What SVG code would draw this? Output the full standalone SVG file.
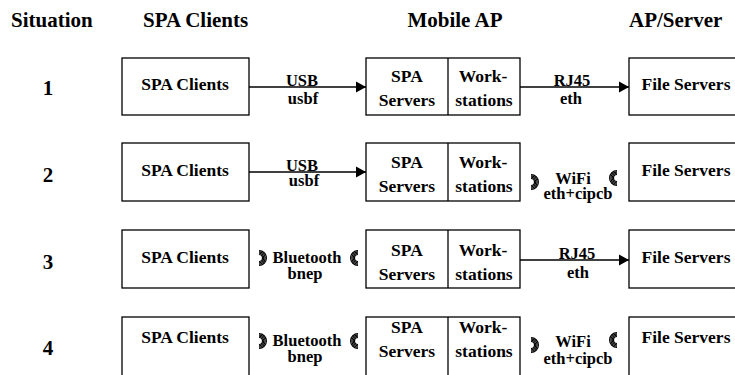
<svg xmlns="http://www.w3.org/2000/svg" width="735" height="375" viewBox="0 0 735 375" font-family="'Liberation Serif', 'DejaVu Serif', serif" font-weight="bold">
<style>
text{font-family:'Liberation Serif','DejaVu Serif',serif;font-weight:700;fill:#000}
.h{font-size:21px}
.n{font-size:21px;text-anchor:middle}
.b{font-size:17.5px;text-anchor:middle}
.l{font-size:16.5px;text-anchor:middle}
.box{fill:#fff;stroke:#000;stroke-width:1.3}
.ln{stroke:#000;stroke-width:1.3;fill:none}
.wl{stroke:#000;stroke-width:1.2;fill:none}
</style>
<defs>
<marker id="ah" markerWidth="10" markerHeight="12" refX="10" refY="6" orient="auto" markerUnits="userSpaceOnUse">
<path d="M0,0.5 L10,6 L0,11.5 Z" fill="#000"/>
</marker>
<g id="wave">
<path class="wl" d="M0,-3.5 A3.5,3.5 0 0 1 0,3.5"/>
<path class="wl" d="M0,-4.8 A4.8,4.8 0 0 1 0,4.8"/>
<path class="wl" d="M0,-6.1 A6.1,6.1 0 0 1 0,6.1"/>
<path class="wl" d="M0,-7.4 A7.4,7.4 0 0 1 0,7.4"/>
</g>
</defs>
<rect width="735" height="375" fill="#fff"/>
<g id="headers">
<text class="h" x="11" y="27">Situation</text>
<text class="h" x="143" y="27">SPA Clients</text>
<text class="h" x="455" y="27" text-anchor="middle">Mobile AP</text>
<text class="h" x="629" y="27">AP/Server</text>
</g>
<g id="numbers">
<text class="n" x="48" y="95">1</text>
<text class="n" x="48" y="182">2</text>
<text class="n" x="48" y="269">3</text>
<text class="n" x="48" y="355">4</text>
</g>
<g id="connectors">
<line class="ln" x1="249" y1="87" x2="366" y2="87" marker-end="url(#ah)"/>
<line class="ln" x1="520" y1="87" x2="629" y2="87" marker-end="url(#ah)"/>
<line class="ln" x1="249" y1="172" x2="366" y2="172" marker-end="url(#ah)"/>
<line class="ln" x1="520" y1="260" x2="629" y2="260" marker-end="url(#ah)"/>
<use href="#wave" x="531" y="182"/>
<use href="#wave" transform="translate(617,178) scale(-1,1)"/>
<use href="#wave" x="259" y="258"/>
<use href="#wave" transform="translate(358,258) scale(-1,1)"/>
<use href="#wave" x="259" y="341"/>
<use href="#wave" transform="translate(358,341) scale(-1,1)"/>
<use href="#wave" x="531" y="345"/>
<use href="#wave" transform="translate(617,340) scale(-1,1)"/>
</g>
<g id="labels">
<text class="l" x="302" y="86">USB</text>
<text class="l" x="303" y="104">usbf</text>
<text class="l" x="572" y="86">RJ45</text>
<text class="l" x="571" y="104">eth</text>
<text class="l" x="302" y="171">USB</text>
<text class="l" x="304" y="186">usbf</text>
<text class="l" x="573" y="184" font-size="18">WiFi</text>
<text class="l" x="578" y="199">eth+cipcb</text>
<text class="l" x="307" y="263">Bluetooth</text>
<text class="l" x="305" y="279">bnep</text>
<text class="l" x="577" y="259">RJ45</text>
<text class="l" x="578" y="278">eth</text>
<text class="l" x="307" y="346">Bluetooth</text>
<text class="l" x="305" y="362">bnep</text>
<text class="l" x="573" y="347" font-size="18">WiFi</text>
<text class="l" x="578" y="364">eth+cipcb</text>
</g>
<g id="client1"><rect class="box" x="122" y="58" width="127" height="57"/><text class="b" x="185" y="90">SPA Clients</text></g>
<g id="client2"><rect class="box" x="122" y="143" width="127" height="58"/><text class="b" x="185" y="176">SPA Clients</text></g>
<g id="client3"><rect class="box" x="122" y="230" width="127" height="58"/><text class="b" x="185" y="263">SPA Clients</text></g>
<g id="client4"><rect class="box" x="122" y="317" width="127" height="62"/><text class="b" x="185" y="343">SPA Clients</text></g>
<g id="mobile1"><rect class="box" x="366" y="58" width="154" height="57"/><line class="ln" x1="448" y1="58" x2="448" y2="115"/><text class="b" x="407" y="82">SPA</text><text class="b" x="407" y="106">Servers</text><text class="b" x="483" y="82">Work-</text><text class="b" x="484" y="106">stations</text></g>
<g id="mobile2"><rect class="box" x="366" y="143" width="154" height="58"/><line class="ln" x1="448" y1="143" x2="448" y2="201"/><text class="b" x="407" y="168">SPA</text><text class="b" x="407" y="192">Servers</text><text class="b" x="483" y="168">Work-</text><text class="b" x="484" y="192">stations</text></g>
<g id="mobile3"><rect class="box" x="366" y="230" width="154" height="58"/><line class="ln" x1="448" y1="230" x2="448" y2="288"/><text class="b" x="407" y="256">SPA</text><text class="b" x="407" y="280">Servers</text><text class="b" x="483" y="256">Work-</text><text class="b" x="484" y="280">stations</text></g>
<g id="mobile4"><rect class="box" x="366" y="317" width="154" height="62"/><line class="ln" x1="448" y1="317" x2="448" y2="379"/><text class="b" x="407" y="333">SPA</text><text class="b" x="407" y="357">Servers</text><text class="b" x="483" y="333">Work-</text><text class="b" x="484" y="357">stations</text></g>
<g id="file1"><rect class="box" x="629" y="58" width="120" height="57"/><text class="b" x="686" y="90">File Servers</text></g>
<g id="file2"><rect class="box" x="629" y="143" width="120" height="58"/><text class="b" x="686" y="176">File Servers</text></g>
<g id="file3"><rect class="box" x="629" y="230" width="120" height="58"/><text class="b" x="686" y="263">File Servers</text></g>
<g id="file4"><rect class="box" x="629" y="317" width="120" height="62"/><text class="b" x="686" y="343">File Servers</text></g>
</svg>
